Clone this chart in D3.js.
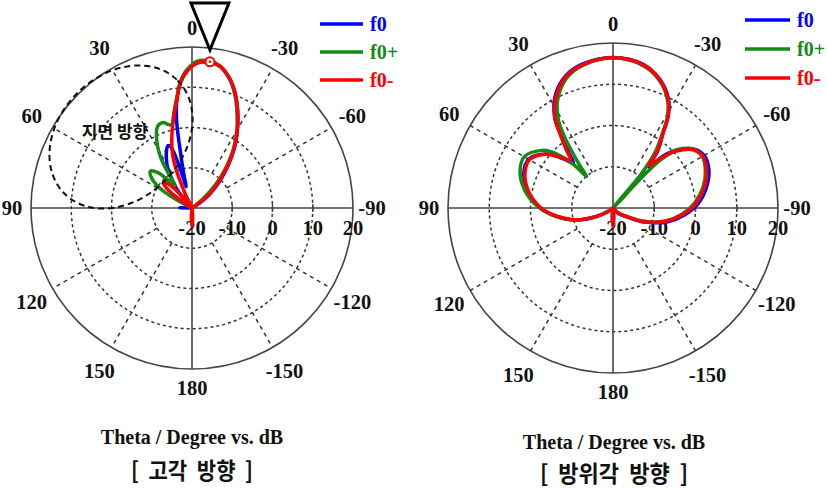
<!DOCTYPE html>
<html>
<head>
<meta charset="utf-8">
<script src="https://cdn.jsdelivr.net/npm/d3@7"></script>
<style>
  body { margin: 0; background: #fff; }
  svg { display: block; }
</style>
</head>
<body>
<svg id="svg" width="827" height="488"></svg>
<script>
// Series / ticks
const seriesNames = ["f0", "f0+", "f0-"];
const seriesColors = ["#0000ff", "#158a15", "#ff0000"];
const angleTicks = [0, 30, 60, 90, 120, 150, 180, -150, -120, -90, -60, -30];
const dbTicks = [-20, -10, 0, 10, 20];

// Elevation pattern (고각), [angle deg (+ = left of 0), dB]
const elevF0 = [[-180,-17],[-174,-20],[-62,-20],[-55,-16.5],[-49,-12.5],[-43,-8.3],[-38,-4.2],[-33.7,-0.4],[-29.2,3.3],[-24.9,6.9],[-20.6,10.4],[-16.6,13.2],[-11.3,15.8],[-7,16.5],[-2,16.1],[2,14.4],[5,11.6],[7.9,7.3],[10,2],[11.5,-5],[13.5,-11],[15.5,-14.5],[17,-9],[19,-4],[21,-3.4],[24,-4.4],[28,-6.5],[31,-8.2],[35,-11.4],[39,-14],[44,-18],[50,-20],[84,-20],[89,-17],[94,-20],[174,-20]];
const elevF0p = [[-180,-18],[-174,-20],[-58,-20],[-50,-16.5],[-45,-11.5],[-40,-6.8],[-35,-2],[-30,2.3],[-25,6.4],[-20.6,10.2],[-16.6,13.2],[-11.3,15.9],[-7,16.8],[-2,16.5],[2,14.4],[5.3,11.4],[7.9,7.6],[11,3.8],[13.5,1.3],[16,1.6],[18.4,2.4],[21,2.4],[23.6,1.7],[28.3,-1.7],[31.6,-5],[34,-9],[37,-13],[40,-11.5],[44,-7.8],[48.5,-6.2],[53,-7.3],[57,-9.5],[60,-12.5],[63,-16.5],[68,-20],[174,-20]];
const elevF0m = [[-180,-15.5],[-176,-17.5],[-172,-20],[-64,-20],[-57,-18.5],[-51,-14.1],[-43.5,-9.2],[-38.4,-4.7],[-33.7,-0.6],[-29.2,3.2],[-24.9,6.9],[-20.6,10.5],[-16.6,13.3],[-11.3,15.9],[-7,16.6],[-2,16],[2,14],[5.3,11.2],[7.9,7.2],[11.3,3.2],[14.9,-0.7],[18.9,-4.7],[21.5,-8],[23.5,-12],[25.5,-16],[29,-19.5],[36,-19],[41,-15],[45,-11.5],[48.5,-10.5],[52,-12],[56,-16],[62,-20],[172,-20],[176,-17.5]];

// Azimuth pattern (방위각)
const aziF0 = [[-180,-16],[-176,-18],[-170,-20],[-145,-20],[-135,-18],[-122,-15.8],[-114,-11.6],[-104,-6.3],[-95.4,-2.5],[-86.6,0.8],[-76.7,3.4],[-67.7,5.1],[-60,5.5],[-54,4.3],[-48,1],[-44,-2.5],[-41,-6.8],[-38,-2.4],[-33.7,1.9],[-31,6],[-27,9.6],[-20,13.2],[-11.8,15.6],[0,16.5],[11.8,15.7],[19.5,14.1],[26.9,10.8],[32.5,6.4],[35.4,2],[38.7,-2.8],[41.5,-5.5],[45,-3.2],[51,0.8],[60,3.6],[68,3.3],[78,1.3],[89,-2],[98,-6],[108,-10.6],[117,-15.3],[125,-18.5],[140,-20],[170,-20],[176,-18]];
const aziF0p = [[-180,-17],[-176,-18.5],[-170,-20],[-145,-20],[-135,-18.5],[-122,-16.3],[-114,-12.2],[-104,-7],[-95.4,-3.3],[-86.6,-0.2],[-76.7,2.5],[-67.7,4.2],[-60,5],[-54,4.2],[-48,1.2],[-45,-3],[-43.5,-8],[-41.5,-20],[-39.5,-9],[-37,-3],[-33.7,1.5],[-31,5.5],[-27,9.2],[-20,12.9],[-11.8,15.3],[0,16.4],[11.8,15.4],[19.5,13.5],[26.9,9.6],[31.9,5],[34,1.4],[36,-3],[38,-7],[40,-10],[42,-6],[44,-3.4],[48,0.5],[51,2.2],[59.7,4.8],[68,4.3],[78,2],[89,-1.8],[98,-5.8],[108,-10.5],[117,-15.5],[125,-18.5],[140,-20],[170,-20],[176,-18.5]];
const aziF0m = [[-180,-15.5],[-176,-17.5],[-170,-20],[-145,-20],[-135,-18.3],[-122,-16.2],[-114,-12],[-104,-6.7],[-95.4,-3],[-86.6,0.2],[-76.7,2.8],[-67.7,4.5],[-60,5.1],[-54,4],[-48,0.6],[-44,-3],[-40.5,-6.5],[-38,-2.5],[-33.7,1.8],[-31,5.9],[-27,9.5],[-20,13.1],[-11.8,15.5],[0,16.4],[11.8,15.5],[19.5,13.9],[26.9,10.4],[32.5,6.3],[35.4,2.3],[38.7,-1.9],[41.5,-4.5],[45,-3],[51,0.7],[60,3.4],[68,3],[78,1.1],[89,-2.2],[98,-6.1],[108,-10.7],[117,-15.5],[125,-18.5],[140,-20],[170,-20],[176,-17.5]];

const svg = d3.select("#svg");
const serif = "'Liberation Serif', 'Times New Roman', serif";
const korean = "'Noto Sans CJK KR', sans-serif";
const rad = a => a * Math.PI / 180;

function drawPolar(cx, cy, R, series, legend) {
    const g = svg.append("g").attr("transform", `translate(${cx},${cy})`);
    const r = d3.scaleLinear().domain([-20, 20]).range([0, R]).clamp(true);

    // dashed rings
    g.selectAll(".ring")
        .data(dbTicks.slice(1, -1))
        .join("circle")
        .attr("r", d => r(d))
        .attr("fill", "none")
        .attr("stroke", "#333")
        .attr("stroke-width", 1.5)
        .attr("stroke-dasharray", "3,3");

    // dashed spokes, start at the -10 ring
    g.selectAll(".spoke")
        .data(angleTicks.filter(a => a % 90 !== 0))
        .join("line")
        .attr("x1", d => -r(-10) * Math.sin(rad(d)))
        .attr("y1", d => -r(-10) * Math.cos(rad(d)))
        .attr("x2", d => -R * Math.sin(rad(d)))
        .attr("y2", d => -R * Math.cos(rad(d)))
        .attr("stroke", "#333")
        .attr("stroke-width", 1.5)
        .attr("stroke-dasharray", "4,4");

    g.append("circle")
        .attr("r", R)
        .attr("fill", "none")
        .attr("stroke", "#444")
        .attr("stroke-width", 1.6);

    // main axes
    g.append("line").attr("x1", -R).attr("x2", R).attr("y1", 0).attr("y2", 0)
        .attr("stroke", "#444").attr("stroke-width", 1.6);
    g.append("line").attr("y1", -R).attr("y2", R).attr("x1", 0).attr("x2", 0)
        .attr("stroke", "#444").attr("stroke-width", 1.6);

    g.selectAll(".rtick")
        .data(dbTicks.slice(1, -1))
        .join("line")
        .attr("x1", d => r(d)).attr("x2", d => r(d))
        .attr("y1", -4).attr("y2", 4)
        .attr("stroke", "#444").attr("stroke-width", 1.4);

    // radial labels
    g.selectAll(".rlab")
        .data(dbTicks)
        .join("text")
        .attr("x", d => r(d))
        .attr("y", 20)
        .attr("dy", "0.35em")
        .attr("text-anchor", "middle")
        .style("font-family", serif)
        .style("font-weight", "bold")
        .style("font-size", "20.5px")
        .style("fill", "#111")
        .text(d => d);

    // angle labels
    g.selectAll(".alab")
        .data(angleTicks)
        .join("text")
        .attr("x", d => -(R + 19 + 6 * Math.abs(Math.sin(rad(2 * d)))) * Math.sin(rad(d)))
        .attr("y", d => -(R + 19 + 6 * Math.abs(Math.sin(rad(2 * d))) + (Math.abs(d) > 90 && Math.abs(d) < 180 ? 3 : 0)) * Math.cos(rad(d)))
        .attr("dy", "0.35em")
        .attr("text-anchor", "middle")
        .style("font-family", serif)
        .style("font-weight", "bold")
        .style("font-size", "20.5px")
        .style("fill", "#111")
        .text(d => d);

    // traces
    const line = d3.lineRadial()
        .angle(d => -rad(d[0]))
        .radius(d => r(d[1]))
        .curve(d3.curveCatmullRomClosed.alpha(0.5));

    g.selectAll(".trace")
        .data(series)
        .join("path")
        .attr("d", line)
        .attr("fill", "none")
        .attr("stroke", (d, i) => seriesColors[i])
        .attr("stroke-width", 3.5)
        .attr("stroke-linejoin", "round");

    // legend
    const lg = svg.append("g").attr("transform", `translate(${legend.x},${legend.y})`);
    seriesNames.forEach((name, i) => {
        lg.append("line")
            .attr("x1", 0).attr("x2", legend.len)
            .attr("y1", i * legend.step).attr("y2", i * legend.step)
            .attr("stroke", seriesColors[i])
            .attr("stroke-width", 3.5);
        lg.append("text")
            .attr("x", legend.len + 7)
            .attr("y", i * legend.step)
            .attr("dy", "0.35em")
            .style("font-family", serif)
            .style("font-weight", "bold")
            .style("font-size", "20px")
            .style("fill", seriesColors[i])
            .text(name);
    });

    return {g, r};
}

// Left: elevation
const left = drawPolar(192, 208, 161, [elevF0, elevF0p, elevF0m], {x: 320, y: 24, len: 43, step: 28});

// ground-direction ellipse + label
left.g.append("ellipse")
    .attr("transform", "translate(-71,-71) rotate(-45)")
    .attr("rx", 80)
    .attr("ry", 62)
    .attr("fill", "none")
    .attr("stroke", "#111")
    .attr("stroke-width", 2)
    .attr("stroke-dasharray", "6,4");

left.g.append("text")
    .attr("x", -77)
    .attr("y", -76)
    .attr("dy", "0.35em")
    .attr("text-anchor", "middle")
    .style("font-family", korean)
    .style("font-weight", "bold")
    .style("font-size", "17px")
    .style("fill", "#111")
    .text("지면 방향");

// peak marker and antenna triangle
const peak = d3.greatest(elevF0m, d => d[1]);
const px = -left.r(peak[1]) * Math.sin(rad(peak[0]));
const py = -left.r(peak[1]) * Math.cos(rad(peak[0]));
left.g.append("circle").attr("cx", px).attr("cy", py).attr("r", 4.5)
    .attr("fill", "#fff").attr("stroke", "#ff0000").attr("stroke-width", 2);
left.g.append("circle").attr("cx", px).attr("cy", py).attr("r", 1.3).attr("fill", "#ff0000");
left.g.append("path")
    .attr("d", `M${px - 19},-205 L${px + 19},-205 L${px},${-158}Z`)
    .attr("fill", "#fff")
    .attr("stroke", "#000")
    .attr("stroke-width", 3);

// Right: azimuth
drawPolar(613, 208, 165, [aziF0, aziF0p, aziF0m], {x: 745, y: 20, len: 45, step: 29});

// captions
const captions = [
    {x: 192, y1: 444, y2: 479, kr: "[  고각  방향  ]", krLen: 122},
    {x: 614, y1: 449, y2: 482, kr: "[  방위각  방향  ]", krLen: 148}
];
captions.forEach(c => {
    svg.append("text")
        .attr("x", c.x).attr("y", c.y1)
        .attr("text-anchor", "middle")
        .style("font-family", serif)
        .style("font-weight", "bold")
        .style("font-size", "20px")
        .style("fill", "#111")
        .text("Theta / Degree vs. dB");
    svg.append("text")
        .attr("x", c.x).attr("y", c.y2)
        .attr("text-anchor", "middle")
        .attr("textLength", c.krLen)
        .attr("lengthAdjust", "spacingAndGlyphs")
        .style("white-space", "pre")
        .style("font-family", korean)
        .style("font-weight", "bold")
        .style("font-size", "23px")
        .style("fill", "#111")
        .text(c.kr);
});
</script>
</body>
</html>
